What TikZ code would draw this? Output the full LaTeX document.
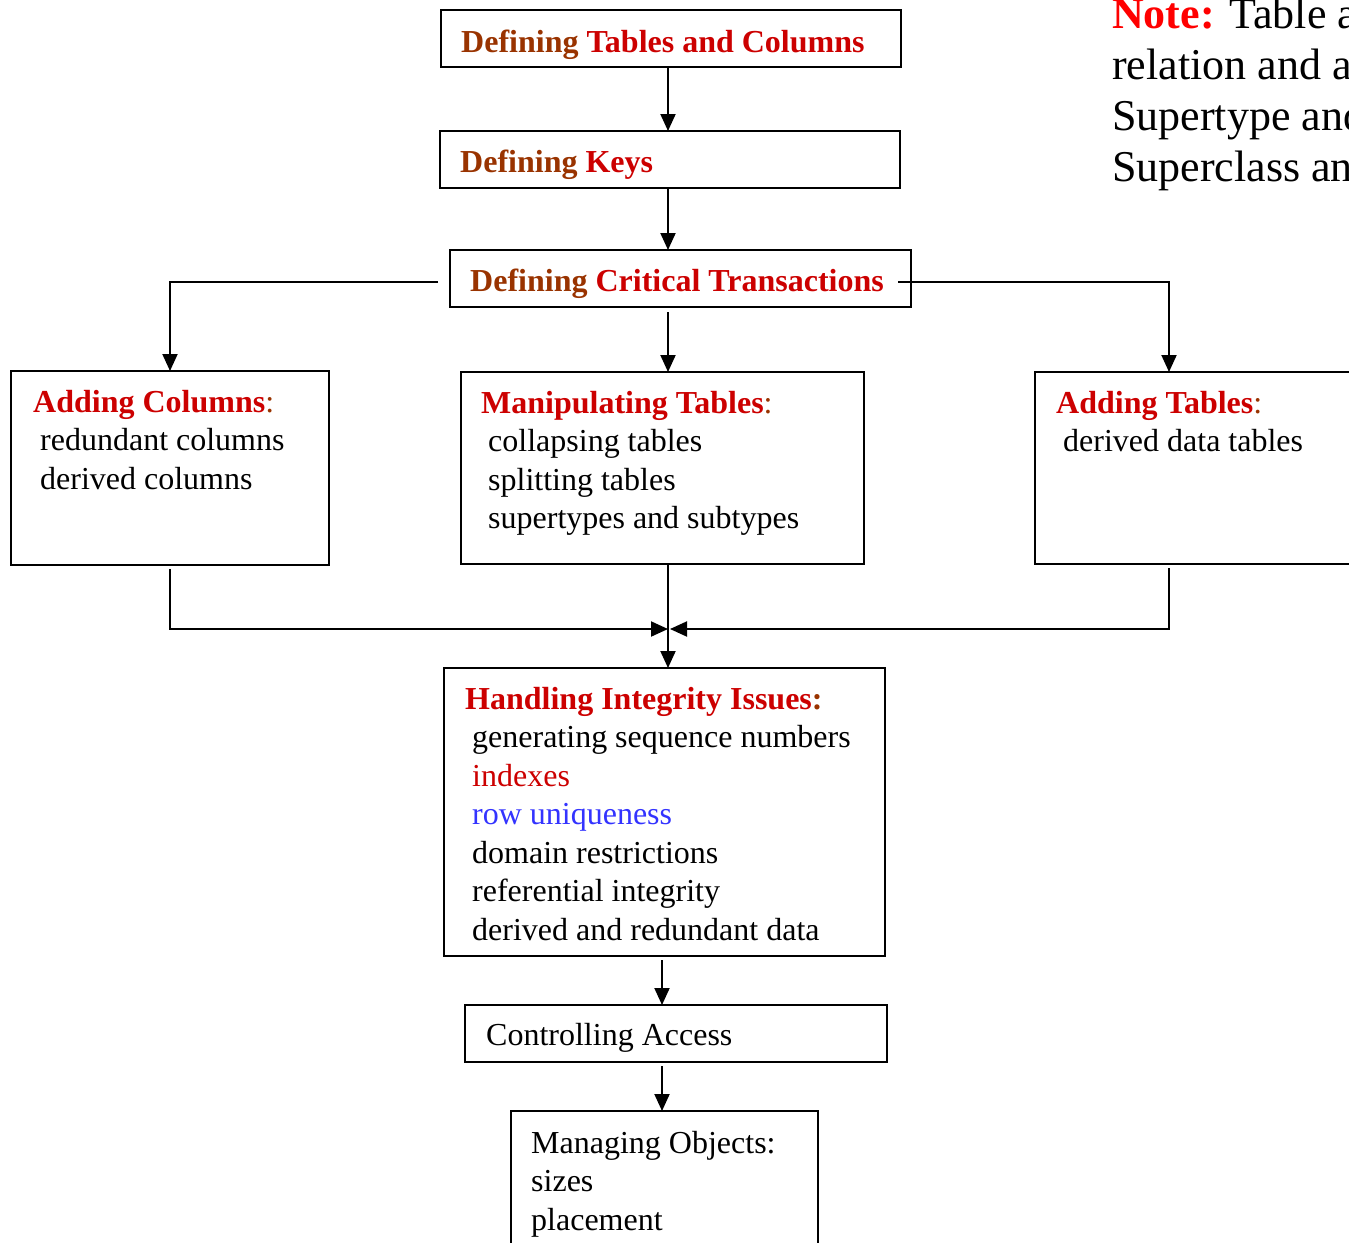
\documentclass[tikz,border=0pt]{standalone}
\usepackage{fontspec}
\setmainfont{Liberation Serif}
\usetikzlibrary{arrows.meta}

\definecolor{defbrown}{HTML}{993300}
\definecolor{headred}{HTML}{CC0000}
\definecolor{notered}{HTML}{FF0000}
\definecolor{rowblue}{HTML}{3333FF}

\newcommand\hd[1]{{\bfseries\color{headred}#1}}
\newcommand\df{{\bfseries\color{defbrown}Defining}}
\newcommand\cl{{\color{defbrown}:}}
\newcommand\ind{\hspace*{7pt}}
% first line of a text block on the node's base line
\newcommand\lines[1]{\begin{tabular}[t]{@{}l@{}}#1\end{tabular}}

\begin{document}
\begin{tikzpicture}[x=1pt, y=-1pt, >={Triangle[length=17pt,width=15pt]}]
        \tikzset{%
         box/.style={
            draw,
            line width=2pt,
            inner sep=0pt,
            outer sep=0pt,
            anchor=north west},
         txt/.style={
            anchor=base west,
            inner sep=0pt,
            font=\fontsize{32}{38.5}\selectfont},
         link/.style={->, line width=2pt},
        }
        \useasboundingbox (0,0) rectangle (1349,1242);
        \clip (0,0) rectangle (1349,1242);

        % boxes: name / corner / width / height
        \foreach \n/\x/\y/\w/\h in {tabcol/441/10/460/57, keys/440/131/460/57,
            crit/450/250/461/57, addcol/11/371/318/194, manip/461/372/403/192,
            addtab/1035/372/400/192, integ/444/668/441/288, access/465/1005/422/57,
            objects/511/1111/307/160}
            \node [box, minimum width=\w pt, minimum height=\h pt] (\n) at (\x,\y) {};

        \node [txt] (tabcol-t) at ([shift={(20pt,-42pt)}]tabcol.north west)
            {\df\ \hd{Tables and Columns}};
        \node [txt] (keys-t) at ([shift={(20pt,-41pt)}]keys.north west)
            {\df\ \hd{Keys}};
        \node [txt] (crit-t) at ([shift={(20pt,-41pt)}]crit.north west)
            {\df\ \hd{Critical Transactions}};
        \node [txt] (addcol-t) at ([shift={(22pt,-41pt)}]addcol.north west)
            {\lines{\hd{Adding Columns}\cl\\ \ind redundant columns\\ \ind derived columns}};
        \node [txt] (manip-t) at ([shift={(20pt,-41pt)}]manip.north west)
            {\lines{\hd{Manipulating Tables}\cl\\ \ind collapsing tables\\ \ind splitting tables\\
             \ind supertypes and subtypes}};
        \node [txt] (addtab-t) at ([shift={(21pt,-41pt)}]addtab.north west)
            {\lines{\hd{Adding Tables}\cl\\ \ind derived data tables}};
        \node [txt] (integ-t) at ([shift={(21pt,-41pt)}]integ.north west)
            {\lines{\hd{Handling Integrity Issues}{\bfseries\color{defbrown}:}\\
             \ind generating sequence numbers\\ \ind{\color{headred}indexes}\\
             \ind{\color{rowblue}row uniqueness}\\ \ind domain restrictions\\
             \ind referential integrity\\ \ind derived and redundant data}};
        \node [txt] (access-t) at ([shift={(21pt,-40pt)}]access.north west)
            {Controlling Access};
        \node [txt] (objects-t) at ([shift={(20pt,-42pt)}]objects.north west)
            {\lines{Managing Objects:\\ sizes\\ placement}};

        \node [txt, font=\fontsize{44}{51}\selectfont] (note) at (1112,28)
            {\lines{{\bfseries\color{notered}Note:} Table and column\\ relation and attribute\\
             Supertype and subtype\\ Superclass and subclass}};

        \coordinate (spine) at (668,0);
        \coordinate (stem) at (662,0);
        \coordinate (join) at (668,629);

        \draw [link] (tabcol.south -| spine) -- (keys.north -| spine);
        \draw [link] (keys.south -| spine) -- (crit.north -| spine);

        \draw [link] ([shift={(-12pt,-3pt)}]crit.west) -| (addcol.north);
        \draw [link] ([shift={(-13pt,-3pt)}]crit.east) -| ([xshift=134pt]addtab.north west);
        \draw [link] ([yshift=-5pt]crit.south -| spine) -- (manip.north -| spine);

        \draw [link] ([yshift=-4pt]addcol.south) |- (join);
        \draw [link] ([shift={(134pt,-4pt)}]addtab.south west) |- ([xshift=2pt]join);
        \draw [link] (manip.south -| spine) -- (integ.north -| spine);

        \draw [link] ([yshift=-4pt]integ.south -| stem) -- (access.north -| stem);
        \draw [link] ([yshift=-4pt]access.south -| stem) -- (objects.north -| stem);
\end{tikzpicture}
\end{document}
